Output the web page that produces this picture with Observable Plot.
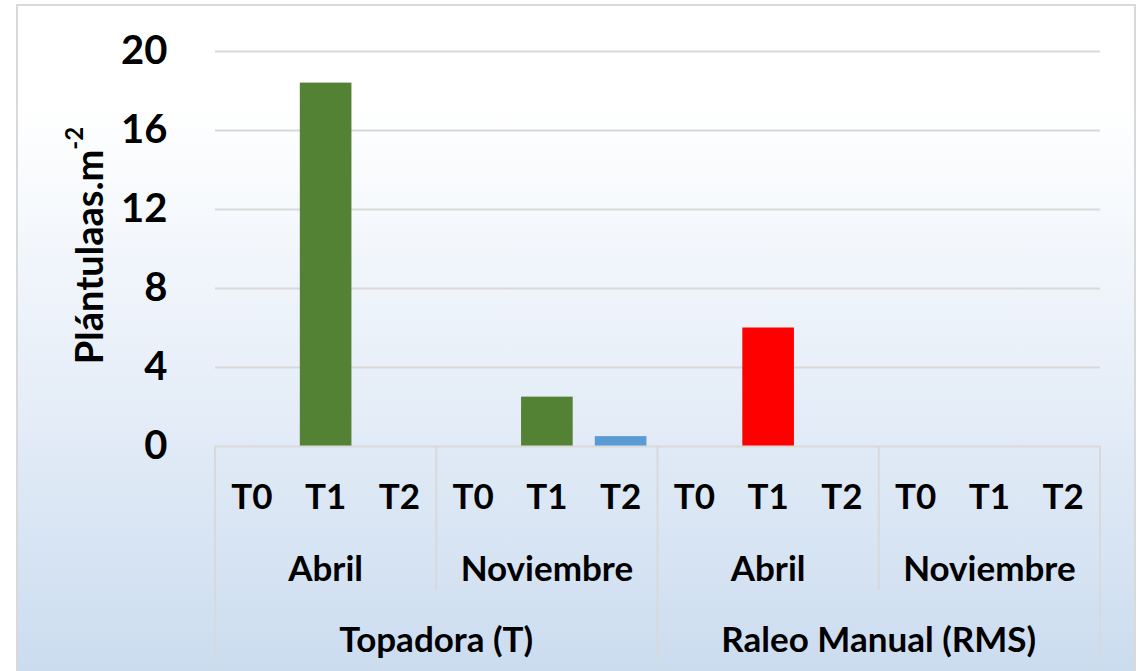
<!DOCTYPE html>
<html><head><meta charset="utf-8">
<script src="https://cdn.jsdelivr.net/npm/d3@7"></script>
<script src="https://cdn.jsdelivr.net/npm/@observablehq/plot@0.6"></script>
<style>
html,body{margin:0;padding:0;background:#fff;}
#wrap{position:relative;width:1138px;height:671px;overflow:hidden;}
#bg{position:absolute;left:16px;top:4px;width:1116px;height:700px;border:2px solid #d9d9d9;
  background:linear-gradient(to bottom,#ffffff 0%,#ffffff 14%,#e6eef8 55%,#c8daee 100%);}
#chart{position:absolute;left:0;top:0;}
</style></head><body><div id="wrap"><div id="bg"></div><div id="chart"></div></div>
<script>
const groups = ["Topadora (T)", "Raleo Manual (RMS)"];
const months = ["Abril", "Noviembre"];
const treatments = ["T0", "T1", "T2"];
const topadoraAbril = [0, 18.4, 0];
const topadoraNoviembre = [0, 2.5, 0.5];
const raleoAbril = [0, 6.0, 0];
const raleoNoviembre = [0, 0, 0];
const topadoraColors = ["#548235", "#548235", "#5B9BD5"];
const raleoColors = ["#FF0000", "#FF0000", "#FF0000"];
const yTicks = [0, 4, 8, 12, 16, 20];
const yLabel = "Plántulaas.m";
const yLabelSup = "-2";

const seriesValues = [[topadoraAbril, topadoraNoviembre], [raleoAbril, raleoNoviembre]];
const seriesColors = [topadoraColors, raleoColors];
const rows = [];
groups.forEach((g, gi) => months.forEach((m, mi) => treatments.forEach((t, ti) => {
  rows.push({key: `${g}|${m}|${t}`, group: g, month: m, treatment: t,
    value: seriesValues[gi][mi][ti], color: seriesColors[gi][ti]});
})));
const keys = rows.map(d => d.key);

const FONT = "Lato, 'Open Sans', sans-serif";
const plot = Plot.plot({
  width: 1138, height: 671,
  marginLeft: 215, marginRight: 38, marginTop: 51, marginBottom: 225,
  style: {background: "transparent", fontFamily: FONT, overflow: "visible"},
  x: {domain: keys, paddingInner: 0.3, paddingOuter: 0.15, round: false, axis: null},
  y: {domain: [0, 20]},
  color: {type: "identity"},
  marks: [
    Plot.ruleY(yTicks.filter(d => d > 0), {stroke: "#d9d9d9", strokeWidth: 2}),
    Plot.barY(rows, {x: "key", y: "value", fill: "color"}),
    Plot.ruleY([0], {stroke: "#d9d9d9", strokeWidth: 2}),
    Plot.axisY({ticks: yTicks, tickSize: 0, tickPadding: 48, fontSize: 40, fontWeight: "bold",
      fill: "#000", label: null, tickFormat: d => String(d)})
  ]
});
document.getElementById("chart").appendChild(plot);

// Hierarchical category axis built from Plot's own scales
const xs = plot.scale("x");
const ysc = plot.scale("y");
const bw = xs.bandwidth;
const step = xs.step || bw / (1 - 0.3);
const left = k => xs.apply(k) + bw / 2 - step / 2;
const right = k => xs.apply(k) + bw / 2 + step / 2;
const center = k => xs.apply(k) + bw / 2;
const y0 = ysc.apply(0);
const svg = d3.select(plot);
const g = svg.append("g").attr("font-family", FONT).attr("font-weight", "bold").attr("fill", "#000");
const lineColor = "#d9d9d9";
const catSize = 35;
const yT = y0 + 49, yM = y0 + 121, yG = y0 + 192, yMonthEnd = y0 + 144, yEnd = y0 + 214;

const first = keys[0], last = keys[keys.length - 1];
const vline = (x, y2) => g.append("line").attr("x1", x).attr("x2", x).attr("y1", y0).attr("y2", y2)
  .attr("stroke", lineColor).attr("stroke-width", 2);
vline(left(first), yEnd);
vline(right(last), yEnd);
groups.forEach((gr, gi) => {
  const gk = keys.filter(k => k.startsWith(gr + "|"));
  if (gi > 0) vline(left(gk[0]), yEnd);
  months.forEach((m, mi) => {
    const mk = gk.filter(k => k.split("|")[1] === m);
    if (mi > 0) vline(left(mk[0]), yMonthEnd);
    g.append("text").attr("x", (left(mk[0]) + right(mk[mk.length - 1])) / 2).attr("y", yM)
      .attr("text-anchor", "middle").attr("dominant-baseline", "central").attr("font-size", catSize).text(m);
  });
  g.append("text").attr("x", (left(gk[0]) + right(gk[gk.length - 1])) / 2).attr("y", yG)
    .attr("text-anchor", "middle").attr("dominant-baseline", "central").attr("font-size", catSize).text(gr);
});
rows.forEach(d => {
  g.append("text").attr("x", center(d.key)).attr("y", yT)
    .attr("text-anchor", "middle").attr("dominant-baseline", "central").attr("font-size", catSize).text(d.treatment);
});

// y-axis title with superscript
const yMid = (ysc.apply(0) + ysc.apply(20)) / 2 - 3;
const yt = g.append("text").attr("transform", `translate(88,${yMid}) rotate(-90)`)
  .attr("text-anchor", "middle").attr("dominant-baseline", "central").attr("font-size", 38);
yt.append("tspan").text(yLabel);
yt.append("tspan").attr("font-size", 24).attr("dy", -15).text(yLabelSup);
</script></body></html>
